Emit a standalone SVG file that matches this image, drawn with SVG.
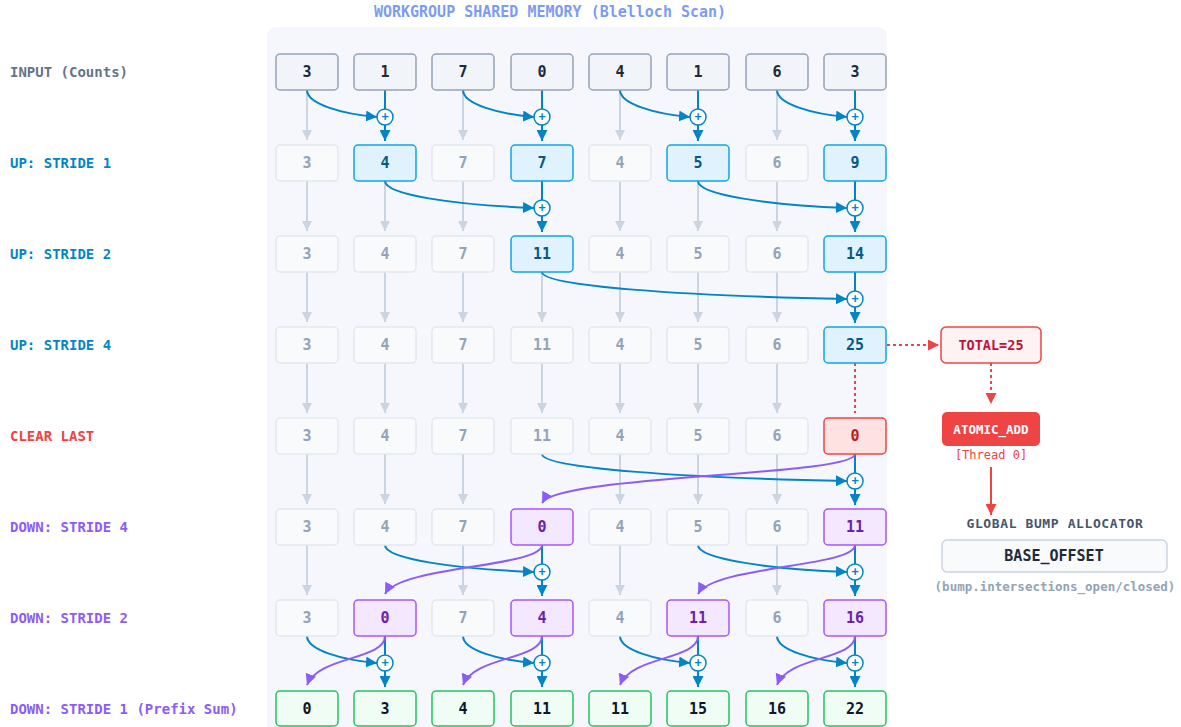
<svg xmlns="http://www.w3.org/2000/svg" width="1181" height="727" viewBox="0 0 1181 727">
<style>
text{font-family:"DejaVu Sans Mono","Liberation Mono",monospace;font-weight:bold}
.lbl{font-size:14px;dominant-baseline:central}
.nv{font-size:15px;text-anchor:middle;dominant-baseline:central}
.box{stroke-width:1.5}
.in rect{fill:#f1f5f9;stroke:#94a3b8}
.in text{fill:#1e293b}
.fd rect{fill:#f8fafc;stroke:#e2e8f0}
.fd text{fill:#94a3b8}
.up rect{fill:#e0f2fe;stroke:#0ea5e9}
.up text{fill:#075985}
.cl rect{fill:#fee2e2;stroke:#ef4444}
.cl text{fill:#b91c1c}
.dn rect{fill:#f3e8ff;stroke:#a855f7}
.dn text{fill:#6b21a8}
.fn rect{fill:#f0fdf4;stroke:#22c55e}
.fn text{fill:#0f172a}
.g{stroke:#cbd5e1;stroke-width:2;fill:none;marker-end:url(#ag)}
.b{stroke:#0284c7;stroke-width:2;fill:none}
.ba{stroke:#0284c7;stroke-width:2;fill:none;marker-end:url(#ab)}
.p{stroke:#8b5cf6;stroke-width:2;fill:none;marker-end:url(#ap)}
.pl circle{fill:#ffffff;stroke:#0284c7;stroke-width:1.5}
.pl text{fill:#0284c7;font-size:12px;text-anchor:middle;dominant-baseline:central}
</style>
<defs>
<marker id="ag" viewBox="0 0 10 10" refX="10" refY="5" markerWidth="10" markerHeight="11" markerUnits="userSpaceOnUse" orient="auto"><path d="M0,0 L10,5 L0,10 z" fill="#cbd5e1"/></marker>
<marker id="ab" viewBox="0 0 10 10" refX="10" refY="5" markerWidth="11" markerHeight="11" markerUnits="userSpaceOnUse" orient="auto"><path d="M0,0 L10,5 L0,10 z" fill="#0284c7"/></marker>
<marker id="ap" viewBox="0 0 10 10" refX="10" refY="5" markerWidth="11" markerHeight="11" markerUnits="userSpaceOnUse" orient="auto"><path d="M0,0 L10,5 L0,10 z" fill="#8b5cf6"/></marker>
<marker id="ar" viewBox="0 0 10 10" refX="10" refY="5" markerWidth="11" markerHeight="11" markerUnits="userSpaceOnUse" orient="auto"><path d="M0,0 L10,5 L0,10 z" fill="#ef4444"/></marker>
</defs>
<rect width="1181" height="727" fill="#ffffff"/>
<rect x="267" y="27" width="620" height="720" rx="9" fill="#f5f7fc"/>
<text x="550" y="12" text-anchor="middle" dominant-baseline="central" font-size="15" fill="#7c9cf3">WORKGROUP SHARED MEMORY (Blelloch Scan)</text>

<g id="labels">
<text class="lbl" x="10" y="72" fill="#64748b">INPUT (Counts)</text>
<text class="lbl" x="10" y="163" fill="#0284c7">UP: STRIDE 1</text>
<text class="lbl" x="10" y="254" fill="#0284c7">UP: STRIDE 2</text>
<text class="lbl" x="10" y="345" fill="#0284c7">UP: STRIDE 4</text>
<text class="lbl" x="10" y="436" fill="#ef4444">CLEAR LAST</text>
<text class="lbl" x="10" y="527" fill="#8b5cf6">DOWN: STRIDE 4</text>
<text class="lbl" x="10" y="618" fill="#8b5cf6">DOWN: STRIDE 2</text>
<text class="lbl" x="10" y="709" fill="#8b5cf6">DOWN: STRIDE 1 (Prefix Sum)</text>
</g>

<g id="connectors">
<!-- gray pass-through arrows -->
<path class="g" d="M307,90V140"/><path class="g" d="M463,90V140"/><path class="g" d="M620,90V140"/><path class="g" d="M777,90V140"/>
<path class="g" d="M307,181V231"/><path class="g" d="M385,181V231"/><path class="g" d="M463,181V231"/><path class="g" d="M620,181V231"/><path class="g" d="M698,181V231"/><path class="g" d="M777,181V231"/>
<path class="g" d="M307,272V322"/><path class="g" d="M385,272V322"/><path class="g" d="M463,272V322"/><path class="g" d="M542,272V322"/><path class="g" d="M620,272V322"/><path class="g" d="M698,272V322"/><path class="g" d="M777,272V322"/>
<path class="g" d="M307,363V413"/><path class="g" d="M385,363V413"/><path class="g" d="M463,363V413"/><path class="g" d="M542,363V413"/><path class="g" d="M620,363V413"/><path class="g" d="M698,363V413"/><path class="g" d="M777,363V413"/>
<path class="g" d="M307,454V504"/><path class="g" d="M385,454V504"/><path class="g" d="M463,454V504"/><path class="g" d="M620,454V504"/><path class="g" d="M698,454V504"/><path class="g" d="M777,454V504"/>
<path class="g" d="M307,545V595"/><path class="g" d="M463,545V595"/><path class="g" d="M620,545V595"/><path class="g" d="M777,545V595"/>
<!-- up-sweep stride 1 -->
<path class="b" d="M385,90V109M542,90V109M698,90V109M855,90V109"/>
<path class="ba" d="M385,125V141"/><path class="ba" d="M542,125V141"/><path class="ba" d="M698,125V141"/><path class="ba" d="M855,125V141"/>
<path class="ba" d="M307,90C307,104 342,114 377,117"/>
<path class="ba" d="M463,90C463,104 498,114 534,117"/>
<path class="ba" d="M620,90C620,104 655,114 690,117"/>
<path class="ba" d="M777,90C777,104 812,114 847,117"/>
<!-- up-sweep stride 2 -->
<path class="b" d="M542,181V200M855,181V200"/>
<path class="ba" d="M542,216V232"/><path class="ba" d="M855,216V232"/>
<path class="ba" d="M385,181C385,195 456,205 534,208"/>
<path class="ba" d="M698,181C698,195 769,205 847,208"/>
<!-- up-sweep stride 4 -->
<path class="b" d="M855,272V291"/>
<path class="ba" d="M855,307V323"/>
<path class="ba" d="M542,272C542,286 683,296 847,299"/>
<!-- total / clear -->
<path d="M855,363V413" stroke="#ef4444" stroke-width="2" stroke-dasharray="3,3" fill="none"/>
<path d="M887,345H939" stroke="#ef4444" stroke-width="2" stroke-dasharray="3,3" fill="none" marker-end="url(#ar)"/>
<path d="M991,363V404" stroke="#ef4444" stroke-width="2" stroke-dasharray="3,3" fill="none" marker-end="url(#ar)"/>
<path d="M991,467V515" stroke="#ef4444" stroke-width="2" fill="none" marker-end="url(#ar)"/>
<!-- down-sweep stride 4 -->
<path class="b" d="M855,454V473"/>
<path class="ba" d="M855,489V505"/>
<path class="ba" d="M542,454C542,468 683,478 847,481"/>
<path class="p" d="M855,454C855,476 557,475 542,503"/>
<!-- down-sweep stride 2 -->
<path class="b" d="M542,545V564M855,545V564"/>
<path class="ba" d="M542,580V596"/><path class="ba" d="M855,580V596"/>
<path class="ba" d="M385,545C385,559 456,569 534,572"/>
<path class="ba" d="M698,545C698,559 769,569 847,572"/>
<path class="p" d="M542,545C542,567 400,566 385,594"/>
<path class="p" d="M855,545C855,567 713,566 698,594"/>
<!-- down-sweep stride 1 -->
<path class="b" d="M385,636V655M542,636V655M698,636V655M855,636V655"/>
<path class="ba" d="M385,671V687"/><path class="ba" d="M542,671V687"/><path class="ba" d="M698,671V687"/><path class="ba" d="M855,671V687"/>
<path class="ba" d="M307,636C307,650 342,660 377,663"/>
<path class="ba" d="M463,636C463,650 498,660 534,663"/>
<path class="ba" d="M620,636C620,650 655,660 690,663"/>
<path class="ba" d="M777,636C777,650 812,660 847,663"/>
<path class="p" d="M385,636C385,660 318,656 307,685"/>
<path class="p" d="M542,636C542,660 474,656 463,685"/>
<path class="p" d="M698,636C698,660 631,656 620,685"/>
<path class="p" d="M855,636C855,660 788,656 777,685"/>
<!-- plus operators -->
<g class="pl">
<circle cx="385" cy="117" r="8"/><text x="385" y="117">+</text>
<circle cx="542" cy="117" r="8"/><text x="542" y="117">+</text>
<circle cx="698" cy="117" r="8"/><text x="698" y="117">+</text>
<circle cx="855" cy="117" r="8"/><text x="855" y="117">+</text>
<circle cx="542" cy="208" r="8"/><text x="542" y="208">+</text>
<circle cx="855" cy="208" r="8"/><text x="855" y="208">+</text>
<circle cx="855" cy="299" r="8"/><text x="855" y="299">+</text>
<circle cx="855" cy="481" r="8"/><text x="855" y="481">+</text>
<circle cx="542" cy="572" r="8"/><text x="542" y="572">+</text>
<circle cx="855" cy="572" r="8"/><text x="855" y="572">+</text>
<circle cx="385" cy="663" r="8"/><text x="385" y="663">+</text>
<circle cx="542" cy="663" r="8"/><text x="542" y="663">+</text>
<circle cx="698" cy="663" r="8"/><text x="698" y="663">+</text>
<circle cx="855" cy="663" r="8"/><text x="855" y="663">+</text>
</g>
</g>

<!-- row 0 input -->
<g id="r0c0" class="in box"><rect x="276" y="54" width="62" height="36" rx="4"/><text class="nv" x="307" y="72">3</text></g>
<g id="r0c1" class="in box"><rect x="354" y="54" width="62" height="36" rx="4"/><text class="nv" x="385" y="72">1</text></g>
<g id="r0c2" class="in box"><rect x="432" y="54" width="62" height="36" rx="4"/><text class="nv" x="463" y="72">7</text></g>
<g id="r0c3" class="in box"><rect x="511" y="54" width="62" height="36" rx="4"/><text class="nv" x="542" y="72">0</text></g>
<g id="r0c4" class="in box"><rect x="589" y="54" width="62" height="36" rx="4"/><text class="nv" x="620" y="72">4</text></g>
<g id="r0c5" class="in box"><rect x="667" y="54" width="62" height="36" rx="4"/><text class="nv" x="698" y="72">1</text></g>
<g id="r0c6" class="in box"><rect x="746" y="54" width="62" height="36" rx="4"/><text class="nv" x="777" y="72">6</text></g>
<g id="r0c7" class="in box"><rect x="824" y="54" width="62" height="36" rx="4"/><text class="nv" x="855" y="72">3</text></g>
<!-- row 1 -->
<g id="r1c0" class="fd box"><rect x="276" y="145" width="62" height="36" rx="4"/><text class="nv" x="307" y="163">3</text></g>
<g id="r1c1" class="up box"><rect x="354" y="145" width="62" height="36" rx="4"/><text class="nv" x="385" y="163">4</text></g>
<g id="r1c2" class="fd box"><rect x="432" y="145" width="62" height="36" rx="4"/><text class="nv" x="463" y="163">7</text></g>
<g id="r1c3" class="up box"><rect x="511" y="145" width="62" height="36" rx="4"/><text class="nv" x="542" y="163">7</text></g>
<g id="r1c4" class="fd box"><rect x="589" y="145" width="62" height="36" rx="4"/><text class="nv" x="620" y="163">4</text></g>
<g id="r1c5" class="up box"><rect x="667" y="145" width="62" height="36" rx="4"/><text class="nv" x="698" y="163">5</text></g>
<g id="r1c6" class="fd box"><rect x="746" y="145" width="62" height="36" rx="4"/><text class="nv" x="777" y="163">6</text></g>
<g id="r1c7" class="up box"><rect x="824" y="145" width="62" height="36" rx="4"/><text class="nv" x="855" y="163">9</text></g>
<!-- row 2 -->
<g id="r2c0" class="fd box"><rect x="276" y="236" width="62" height="36" rx="4"/><text class="nv" x="307" y="254">3</text></g>
<g id="r2c1" class="fd box"><rect x="354" y="236" width="62" height="36" rx="4"/><text class="nv" x="385" y="254">4</text></g>
<g id="r2c2" class="fd box"><rect x="432" y="236" width="62" height="36" rx="4"/><text class="nv" x="463" y="254">7</text></g>
<g id="r2c3" class="up box"><rect x="511" y="236" width="62" height="36" rx="4"/><text class="nv" x="542" y="254">11</text></g>
<g id="r2c4" class="fd box"><rect x="589" y="236" width="62" height="36" rx="4"/><text class="nv" x="620" y="254">4</text></g>
<g id="r2c5" class="fd box"><rect x="667" y="236" width="62" height="36" rx="4"/><text class="nv" x="698" y="254">5</text></g>
<g id="r2c6" class="fd box"><rect x="746" y="236" width="62" height="36" rx="4"/><text class="nv" x="777" y="254">6</text></g>
<g id="r2c7" class="up box"><rect x="824" y="236" width="62" height="36" rx="4"/><text class="nv" x="855" y="254">14</text></g>
<!-- row 3 -->
<g id="r3c0" class="fd box"><rect x="276" y="327" width="62" height="36" rx="4"/><text class="nv" x="307" y="345">3</text></g>
<g id="r3c1" class="fd box"><rect x="354" y="327" width="62" height="36" rx="4"/><text class="nv" x="385" y="345">4</text></g>
<g id="r3c2" class="fd box"><rect x="432" y="327" width="62" height="36" rx="4"/><text class="nv" x="463" y="345">7</text></g>
<g id="r3c3" class="fd box"><rect x="511" y="327" width="62" height="36" rx="4"/><text class="nv" x="542" y="345">11</text></g>
<g id="r3c4" class="fd box"><rect x="589" y="327" width="62" height="36" rx="4"/><text class="nv" x="620" y="345">4</text></g>
<g id="r3c5" class="fd box"><rect x="667" y="327" width="62" height="36" rx="4"/><text class="nv" x="698" y="345">5</text></g>
<g id="r3c6" class="fd box"><rect x="746" y="327" width="62" height="36" rx="4"/><text class="nv" x="777" y="345">6</text></g>
<g id="r3c7" class="up box"><rect x="824" y="327" width="62" height="36" rx="4"/><text class="nv" x="855" y="345">25</text></g>
<!-- row 4 -->
<g id="r4c0" class="fd box"><rect x="276" y="418" width="62" height="36" rx="4"/><text class="nv" x="307" y="436">3</text></g>
<g id="r4c1" class="fd box"><rect x="354" y="418" width="62" height="36" rx="4"/><text class="nv" x="385" y="436">4</text></g>
<g id="r4c2" class="fd box"><rect x="432" y="418" width="62" height="36" rx="4"/><text class="nv" x="463" y="436">7</text></g>
<g id="r4c3" class="fd box"><rect x="511" y="418" width="62" height="36" rx="4"/><text class="nv" x="542" y="436">11</text></g>
<g id="r4c4" class="fd box"><rect x="589" y="418" width="62" height="36" rx="4"/><text class="nv" x="620" y="436">4</text></g>
<g id="r4c5" class="fd box"><rect x="667" y="418" width="62" height="36" rx="4"/><text class="nv" x="698" y="436">5</text></g>
<g id="r4c6" class="fd box"><rect x="746" y="418" width="62" height="36" rx="4"/><text class="nv" x="777" y="436">6</text></g>
<g id="r4c7" class="cl box"><rect x="824" y="418" width="62" height="36" rx="4"/><text class="nv" x="855" y="436">0</text></g>
<!-- row 5 -->
<g id="r5c0" class="fd box"><rect x="276" y="509" width="62" height="36" rx="4"/><text class="nv" x="307" y="527">3</text></g>
<g id="r5c1" class="fd box"><rect x="354" y="509" width="62" height="36" rx="4"/><text class="nv" x="385" y="527">4</text></g>
<g id="r5c2" class="fd box"><rect x="432" y="509" width="62" height="36" rx="4"/><text class="nv" x="463" y="527">7</text></g>
<g id="r5c3" class="dn box"><rect x="511" y="509" width="62" height="36" rx="4"/><text class="nv" x="542" y="527">0</text></g>
<g id="r5c4" class="fd box"><rect x="589" y="509" width="62" height="36" rx="4"/><text class="nv" x="620" y="527">4</text></g>
<g id="r5c5" class="fd box"><rect x="667" y="509" width="62" height="36" rx="4"/><text class="nv" x="698" y="527">5</text></g>
<g id="r5c6" class="fd box"><rect x="746" y="509" width="62" height="36" rx="4"/><text class="nv" x="777" y="527">6</text></g>
<g id="r5c7" class="dn box"><rect x="824" y="509" width="62" height="36" rx="4"/><text class="nv" x="855" y="527">11</text></g>
<!-- row 6 -->
<g id="r6c0" class="fd box"><rect x="276" y="600" width="62" height="36" rx="4"/><text class="nv" x="307" y="618">3</text></g>
<g id="r6c1" class="dn box"><rect x="354" y="600" width="62" height="36" rx="4"/><text class="nv" x="385" y="618">0</text></g>
<g id="r6c2" class="fd box"><rect x="432" y="600" width="62" height="36" rx="4"/><text class="nv" x="463" y="618">7</text></g>
<g id="r6c3" class="dn box"><rect x="511" y="600" width="62" height="36" rx="4"/><text class="nv" x="542" y="618">4</text></g>
<g id="r6c4" class="fd box"><rect x="589" y="600" width="62" height="36" rx="4"/><text class="nv" x="620" y="618">4</text></g>
<g id="r6c5" class="dn box"><rect x="667" y="600" width="62" height="36" rx="4"/><text class="nv" x="698" y="618">11</text></g>
<g id="r6c6" class="fd box"><rect x="746" y="600" width="62" height="36" rx="4"/><text class="nv" x="777" y="618">6</text></g>
<g id="r6c7" class="dn box"><rect x="824" y="600" width="62" height="36" rx="4"/><text class="nv" x="855" y="618">16</text></g>
<!-- row 7 -->
<g id="r7c0" class="fn box"><rect x="276" y="691" width="62" height="35" rx="4"/><text class="nv" x="307" y="709">0</text></g>
<g id="r7c1" class="fn box"><rect x="354" y="691" width="62" height="35" rx="4"/><text class="nv" x="385" y="709">3</text></g>
<g id="r7c2" class="fn box"><rect x="432" y="691" width="62" height="35" rx="4"/><text class="nv" x="463" y="709">4</text></g>
<g id="r7c3" class="fn box"><rect x="511" y="691" width="62" height="35" rx="4"/><text class="nv" x="542" y="709">11</text></g>
<g id="r7c4" class="fn box"><rect x="589" y="691" width="62" height="35" rx="4"/><text class="nv" x="620" y="709">11</text></g>
<g id="r7c5" class="fn box"><rect x="667" y="691" width="62" height="35" rx="4"/><text class="nv" x="698" y="709">15</text></g>
<g id="r7c6" class="fn box"><rect x="746" y="691" width="62" height="35" rx="4"/><text class="nv" x="777" y="709">16</text></g>
<g id="r7c7" class="fn box"><rect x="824" y="691" width="62" height="35" rx="4"/><text class="nv" x="855" y="709">22</text></g>

<g id="total"><rect x="941" y="327" width="100" height="36" rx="5" fill="#fef2f2" stroke="#ef4444" stroke-width="1.5"/><text x="991" y="345" text-anchor="middle" dominant-baseline="central" font-size="13.5" fill="#be123c">TOTAL=25</text></g>
<g id="atomic"><rect x="942" y="412" width="98" height="34" rx="5" fill="#ef4444"/><text x="991" y="429" text-anchor="middle" dominant-baseline="central" font-size="12.5" fill="#ffffff">ATOMIC_ADD</text><text x="991" y="455" text-anchor="middle" dominant-baseline="central" font-size="12" fill="#ef4444" style="font-weight:normal">[Thread 0]</text></g>
<g id="bump"><text x="1055" y="523" text-anchor="middle" dominant-baseline="central" font-size="13" letter-spacing="0.6" fill="#475569">GLOBAL BUMP ALLOCATOR</text><rect x="942" y="540" width="225" height="32" rx="5" fill="#f8fafc" stroke="#cbd5e1" stroke-width="1.5"/><text x="1054" y="556" text-anchor="middle" dominant-baseline="central" font-size="15" fill="#1e293b">BASE_OFFSET</text><text x="1055" y="586" text-anchor="middle" dominant-baseline="central" font-size="12.5" fill="#94a3b8">(bump.intersections_open/closed)</text></g>
</svg>
